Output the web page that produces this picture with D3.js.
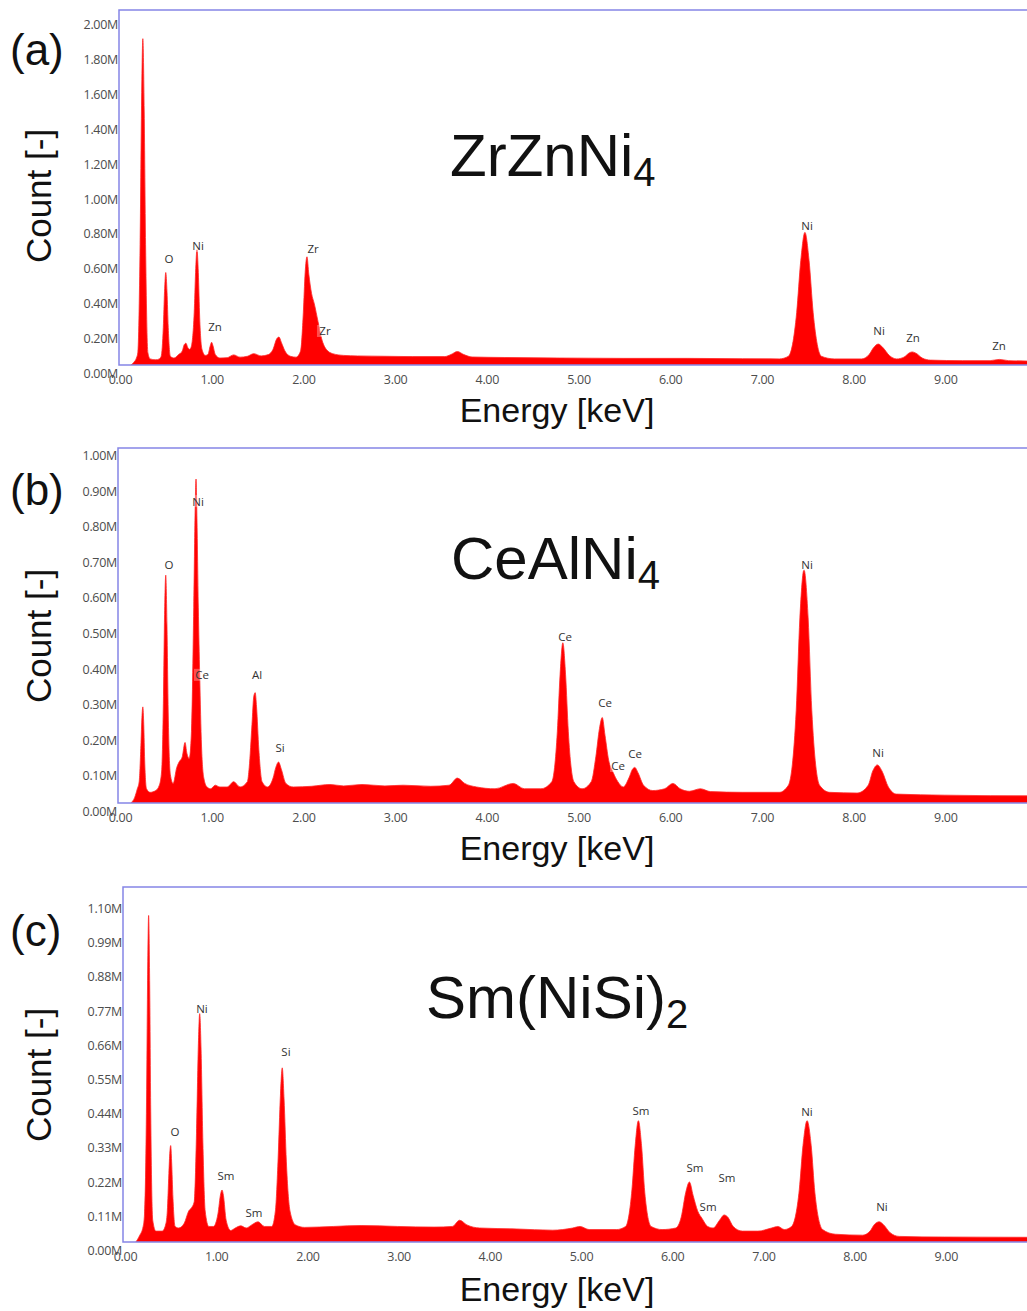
<!DOCTYPE html>
<html>
<head>
<meta charset="utf-8">
<script src="https://cdn.jsdelivr.net/npm/d3@7"></script>
<style>
  body { margin: 0; background: #fff; }
  svg { display: block; }
</style>
</head>
<body>
<svg id="chart" width="1027" height="1311"></svg>
<script>
// ---- axis ticks ----
const energyTicks = [0, 1, 2, 3, 4, 5, 6, 7, 8, 9];
const countTicksA = [0, 0.2, 0.4, 0.6, 0.8, 1.0, 1.2, 1.4, 1.6, 1.8, 2.0];
const countTicksB = [0, 0.1, 0.2, 0.3, 0.4, 0.5, 0.6, 0.7, 0.8, 0.9, 1.0];
const countTicksC = [0, 0.11, 0.22, 0.33, 0.44, 0.55, 0.66, 0.77, 0.88, 0.99, 1.10];

// ---- EDS spectra: [energy keV, counts in millions] ----
const spectrumA = [
  [0.13, 0], [0.16, 0.015], [0.19, 0.04],
  [0.205, 0.07], [0.23, 0.69], [0.245, 1.45], [0.26, 1.87], [0.275, 1.45], [0.29, 0.69], [0.315, 0.07],
  [0.34, 0.035], [0.4, 0.03], [0.44, 0.035],
  [0.46, 0.05], [0.483, 0.215], [0.4965, 0.42], [0.51, 0.53], [0.5235, 0.42], [0.537, 0.215], [0.56, 0.05],
  [0.6, 0.04], [0.65, 0.06],
  [0.69, 0.08], [0.71, 0.115], [0.73, 0.125], [0.75, 0.1], [0.77, 0.09],
  [0.785, 0.1], [0.82, 0.3], [0.835, 0.53], [0.85, 0.66], [0.865, 0.53], [0.88, 0.27], [0.905, 0.09], [0.94, 0.055],
  [0.97, 0.06], [0.995, 0.11], [1.01, 0.13], [1.025, 0.11], [1.05, 0.06], [1.1, 0.04], [1.18, 0.042],
  [1.25, 0.058], [1.32, 0.045], [1.4, 0.05], [1.47, 0.065], [1.55, 0.052], [1.63, 0.06],
  [1.68, 0.09], [1.72, 0.15], [1.745, 0.16], [1.77, 0.13], [1.81, 0.08], [1.87, 0.05], [1.93, 0.045],
  [1.98, 0.08], [2.01, 0.3], [2.03, 0.53], [2.05, 0.62], [2.07, 0.52], [2.1, 0.41], [2.13, 0.35],
  [2.17, 0.25], [2.21, 0.15], [2.26, 0.09], [2.33, 0.065], [2.45, 0.055],
  [2.6, 0.052], [2.9, 0.05], [3.2, 0.048], [3.55, 0.048],
  [3.62, 0.06], [3.69, 0.077], [3.76, 0.06], [3.85, 0.046], [4.2, 0.043], [4.8, 0.04], [5.5, 0.038],
  [6.2, 0.038], [6.8, 0.036], [7.2, 0.035],
  [7.3, 0.05], [7.39, 0.3], [7.435, 0.6], [7.48, 0.76], [7.525, 0.6], [7.57, 0.3], [7.66, 0.05],
  [7.8, 0.035], [8.1, 0.035],
  [8.18, 0.06], [8.23, 0.1], [8.28, 0.12], [8.33, 0.1], [8.4, 0.055], [8.48, 0.035],
  [8.56, 0.045], [8.62, 0.07], [8.65, 0.075], [8.69, 0.068], [8.76, 0.04], [8.85, 0.028],
  [9.2, 0.025], [9.5, 0.025], [9.6, 0.032], [9.7, 0.025], [10.0, 0.022]
];

const spectrumB = [
  [0.13, 0], [0.17, 0.015], [0.2, 0.04],
  [0.22, 0.06], [0.24, 0.17], [0.25, 0.24], [0.26, 0.27], [0.27, 0.22], [0.28, 0.12], [0.3, 0.04],
  [0.34, 0.03], [0.4, 0.035], [0.44, 0.05],
  [0.465, 0.09], [0.485, 0.3], [0.497, 0.53], [0.51, 0.64], [0.523, 0.5], [0.537, 0.25], [0.56, 0.08],
  [0.59, 0.055], [0.63, 0.1], [0.655, 0.115], [0.69, 0.13], [0.72, 0.17], [0.74, 0.14], [0.765, 0.125],
  [0.79, 0.2], [0.815, 0.55], [0.83, 0.82], [0.84, 0.91], [0.85, 0.8], [0.865, 0.55], [0.88, 0.36],
  [0.9, 0.16], [0.925, 0.07], [0.96, 0.045], [1.0, 0.04], [1.05, 0.05], [1.1, 0.045], [1.18, 0.045],
  [1.25, 0.06], [1.32, 0.045], [1.4, 0.06],
  [1.42, 0.1], [1.45, 0.22], [1.47, 0.3], [1.485, 0.31], [1.5, 0.27], [1.525, 0.15], [1.56, 0.06],
  [1.62, 0.045], [1.68, 0.07],
  [1.71, 0.1], [1.74, 0.115], [1.77, 0.095], [1.82, 0.055], [1.9, 0.045],
  [2.1, 0.047], [2.3, 0.052], [2.45, 0.048], [2.65, 0.052], [2.9, 0.048], [3.1, 0.05], [3.4, 0.047],
  [3.6, 0.05], [3.69, 0.07], [3.77, 0.055], [3.9, 0.045], [4.1, 0.04], [4.3, 0.055], [4.42, 0.04], [4.6, 0.04],
  [4.72, 0.06], [4.78, 0.2], [4.81, 0.36], [4.84, 0.45], [4.87, 0.36], [4.9, 0.2], [4.96, 0.06],
  [5.05, 0.04], [5.15, 0.06],
  [5.2, 0.13], [5.24, 0.21], [5.27, 0.24], [5.3, 0.19], [5.34, 0.12], [5.39, 0.085], [5.44, 0.06], [5.5, 0.045],
  [5.56, 0.07], [5.6, 0.095], [5.625, 0.1], [5.66, 0.085], [5.72, 0.05], [5.82, 0.035],
  [5.95, 0.04], [6.04, 0.055], [6.12, 0.04], [6.22, 0.033], [6.34, 0.04], [6.45, 0.032], [6.8, 0.03], [7.2, 0.03],
  [7.3, 0.05], [7.385, 0.26], [7.425, 0.52], [7.47, 0.655], [7.515, 0.52], [7.555, 0.26], [7.64, 0.05],
  [7.75, 0.03], [8.05, 0.028],
  [8.17, 0.05], [8.22, 0.09], [8.27, 0.107], [8.32, 0.09], [8.39, 0.045], [8.48, 0.025],
  [9.0, 0.022], [10.0, 0.02]
];

const spectrumC = [
  [0.13, 0], [0.17, 0.02], [0.21, 0.05],
  [0.225, 0.09], [0.247, 0.45], [0.258, 0.82], [0.27, 1.05], [0.282, 0.82], [0.293, 0.42], [0.315, 0.07],
  [0.35, 0.035], [0.42, 0.035], [0.46, 0.06],
  [0.475, 0.1], [0.492, 0.22], [0.503, 0.29], [0.512, 0.31], [0.522, 0.26], [0.537, 0.14], [0.56, 0.05],
  [0.6, 0.045], [0.66, 0.06], [0.71, 0.1], [0.74, 0.11], [0.77, 0.13],
  [0.795, 0.35], [0.815, 0.63], [0.83, 0.735], [0.845, 0.62], [0.865, 0.32], [0.89, 0.1], [0.93, 0.05], [0.98, 0.05],
  [1.03, 0.09], [1.06, 0.155], [1.075, 0.167], [1.09, 0.15], [1.12, 0.07], [1.17, 0.037],
  [1.22, 0.045], [1.28, 0.052], [1.34, 0.045], [1.4, 0.055], [1.47, 0.065], [1.54, 0.05], [1.62, 0.05],
  [1.66, 0.1], [1.69, 0.27], [1.715, 0.47], [1.735, 0.56], [1.755, 0.46], [1.78, 0.26], [1.82, 0.1],
  [1.88, 0.055], [1.98, 0.047], [2.3, 0.05], [2.6, 0.053], [3.0, 0.05], [3.4, 0.048],
  [3.6, 0.05], [3.68, 0.07], [3.76, 0.055], [3.9, 0.045], [4.3, 0.042], [4.7, 0.038],
  [4.92, 0.045], [5.0, 0.05], [5.1, 0.04], [5.4, 0.04],
  [5.5, 0.05], [5.57, 0.17], [5.605, 0.31], [5.64, 0.39], [5.675, 0.31], [5.71, 0.16], [5.78, 0.05],
  [5.9, 0.04], [6.05, 0.045],
  [6.11, 0.08], [6.16, 0.16], [6.2, 0.193], [6.24, 0.15], [6.29, 0.1], [6.34, 0.075], [6.4, 0.05], [6.46, 0.045],
  [6.53, 0.07], [6.58, 0.087], [6.62, 0.08], [6.68, 0.05], [6.78, 0.035], [6.95, 0.035],
  [7.1, 0.045], [7.17, 0.05], [7.24, 0.04],
  [7.32, 0.05], [7.405, 0.17], [7.445, 0.31], [7.49, 0.39], [7.535, 0.31], [7.575, 0.16], [7.66, 0.04],
  [7.8, 0.025], [8.1, 0.022],
  [8.18, 0.035], [8.23, 0.057], [8.28, 0.065], [8.33, 0.055], [8.4, 0.03], [8.5, 0.018],
  [9.0, 0.016], [10.0, 0.015]
];

// ---- peak identifications: [energy keV, label height in millions, element] ----
const peakLabelsA = [
  [0.545, 0.613, "O"], [0.862, 0.682, "Ni"], [1.047, 0.218, "Zn"],
  [2.116, 0.665, "Zr"], [2.246, 0.195, "Zr"], [7.503, 0.797, "Ni"],
  [8.288, 0.195, "Ni"], [8.659, 0.160, "Zn"], [9.597, 0.109, "Zn"]
];
const peakLabelsB = [
  [0.545, 0.671, "O"], [0.862, 0.848, "Ni"], [0.905, 0.360, "Ce"],
  [1.505, 0.360, "Al"], [1.756, 0.157, "Si"], [4.864, 0.469, "Ce"],
  [5.300, 0.281, "Ce"], [5.442, 0.104, "Ce"], [5.627, 0.140, "Ce"],
  [7.503, 0.669, "Ni"], [8.277, 0.143, "Ni"]
];
const peakLabelsC = [
  [0.559, 0.354, "O"], [0.855, 0.752, "Ni"], [1.118, 0.215, "Sm"],
  [1.425, 0.096, "Sm"], [1.776, 0.611, "Si"], [5.669, 0.424, "Sm"],
  [6.261, 0.241, "Sm"], [6.404, 0.113, "Sm"], [6.612, 0.206, "Sm"],
  [7.489, 0.421, "Ni"], [8.311, 0.113, "Ni"]
];

// ---- panel layout ----
const panels = [
  { tag: "(a)", formula: ["ZrZnNi", "4"], data: spectrumA, peaks: peakLabelsA, ticks: countTicksA,
    left: 119, top: 10, base: 365, perM: 174.5, x0: 119, perKeV: 91.7,
    tagY: 65, formulaX: 450, formulaY: 176, titleY: 196, xTitleY: 422 },
  { tag: "(b)", formula: ["CeAlNi", "4"], data: spectrumB, peaks: peakLabelsB, ticks: countTicksB,
    left: 118, top: 448, base: 803, perM: 356, x0: 119, perKeV: 91.7,
    tagY: 505, formulaX: 451, formulaY: 579, titleY: 636, xTitleY: 860 },
  { tag: "(c)", formula: ["Sm(NiSi)", "2"], data: spectrumC, peaks: peakLabelsC, ticks: countTicksC,
    left: 123, top: 887, base: 1242, perM: 311, x0: 124, perKeV: 91.2,
    tagY: 946, formulaX: 426, formulaY: 1018, titleY: 1075, xTitleY: 1301 }
];

const W = 1027;
const svg = d3.select("#chart");
const frameColor = "#8585e6";
const tickFont = "'Open Sans', sans-serif";
const fmtCount = v => v.toFixed(2) + "M";
const fmtEnergy = v => v.toFixed(2);

panels.forEach((p, i) => {
  const x = d3.scaleLinear().domain([0, 10]).range([p.x0, p.x0 + 10 * p.perKeV]);
  const y = d3.scaleLinear().domain([0, 1]).range([p.base, p.base - p.perM]);
  const g = svg.append("g");

  const clipId = "plot-clip-" + i;
  svg.append("clipPath").attr("id", clipId)
    .append("rect").attr("x", p.left).attr("y", p.top)
    .attr("width", W - p.left).attr("height", p.base - p.top);

  // spectrum fill
  const area = d3.area()
    .x(d => x(d[0]))
    .y0(y(0))
    .y1(d => y(d[1]))
    .curve(d3.curveMonotoneX);
  g.append("path")
    .datum(p.data)
    .attr("clip-path", `url(#${clipId})`)
    .attr("d", area)
    .attr("fill", "#ff0000")
    .attr("stroke", "#ff2a2a")
    .attr("stroke-width", 0.8)
    .attr("stroke-linejoin", "round");

  // plot frame (top, left, bottom)
  g.append("path")
    .attr("d", `M${W + 5},${p.top}H${p.left}V${p.base}H${W + 5}`)
    .attr("fill", "none")
    .attr("stroke", frameColor)
    .attr("stroke-width", 1.5);

  // count axis
  const yAxis = d3.axisLeft(y).tickValues(p.ticks).tickSize(0).tickPadding(1).tickFormat(fmtCount);
  const ya = g.append("g").attr("transform", `translate(${p.left},0)`).call(yAxis);
  ya.select(".domain").remove();
  ya.selectAll("text")
    .attr("dy", null)
    .attr("y", 8)
    .attr("dominant-baseline", "central")
    .attr("font-family", tickFont)
    .attr("font-size", 12.5)
    .attr("letter-spacing", -0.3)
    .attr("fill", "#4d4d4d");

  // energy axis
  const xAxis = d3.axisBottom(x).tickValues(energyTicks).tickSize(0).tickPadding(0).tickFormat(fmtEnergy);
  const xa = g.append("g").attr("transform", `translate(1,${p.base})`).call(xAxis);
  xa.select(".domain").remove();
  xa.selectAll("text")
    .attr("dy", null)
    .attr("y", 14)
    .attr("dominant-baseline", "central")
    .attr("font-family", tickFont)
    .attr("font-size", 12.5)
    .attr("letter-spacing", -0.3)
    .attr("fill", "#4d4d4d");

  // peak identifications
  const lab = g.selectAll(".peak").data(p.peaks).enter().append("g")
    .attr("class", "peak")
    .attr("transform", d => `translate(${x(d[0])},${y(d[1])})`);
  lab.append("rect")
    .attr("x", d => -d[2].length * 4).attr("y", -6)
    .attr("width", d => d[2].length * 8).attr("height", 12)
    .attr("fill", "#fff").attr("opacity", 0.3);
  lab.append("text")
    .attr("text-anchor", "middle")
    .attr("dominant-baseline", "central")
    .attr("font-family", tickFont)
    .attr("font-size", 11.5)
    .attr("fill", "#333")
    .text(d => d[2]);

  // panel tag
  g.append("text")
    .attr("x", 10).attr("y", p.tagY)
    .attr("font-family", "'Liberation Sans', Arial, sans-serif")
    .attr("font-size", 44)
    .attr("fill", "#111")
    .text(p.tag);

  // compound formula
  const ft = g.append("text")
    .attr("x", p.formulaX).attr("y", p.formulaY)
    .attr("font-family", "'Liberation Sans', Arial, sans-serif")
    .attr("font-size", 60)
    .attr("fill", "#111");
  ft.append("tspan").text(p.formula[0]);
  ft.append("tspan").attr("font-size", 40).attr("dy", 10).text(p.formula[1]);

  // axis titles
  g.append("text")
    .attr("transform", `translate(51,${p.titleY}) rotate(-90)`)
    .attr("text-anchor", "middle")
    .attr("font-family", "'Liberation Sans', Arial, sans-serif")
    .attr("font-size", 35)
    .attr("fill", "#111")
    .text("Count [-]");
  g.append("text")
    .attr("x", 557).attr("y", p.xTitleY)
    .attr("text-anchor", "middle")
    .attr("font-family", "'Liberation Sans', Arial, sans-serif")
    .attr("font-size", 34)
    .attr("fill", "#111")
    .text("Energy [keV]");
});
</script>
</body>
</html>
